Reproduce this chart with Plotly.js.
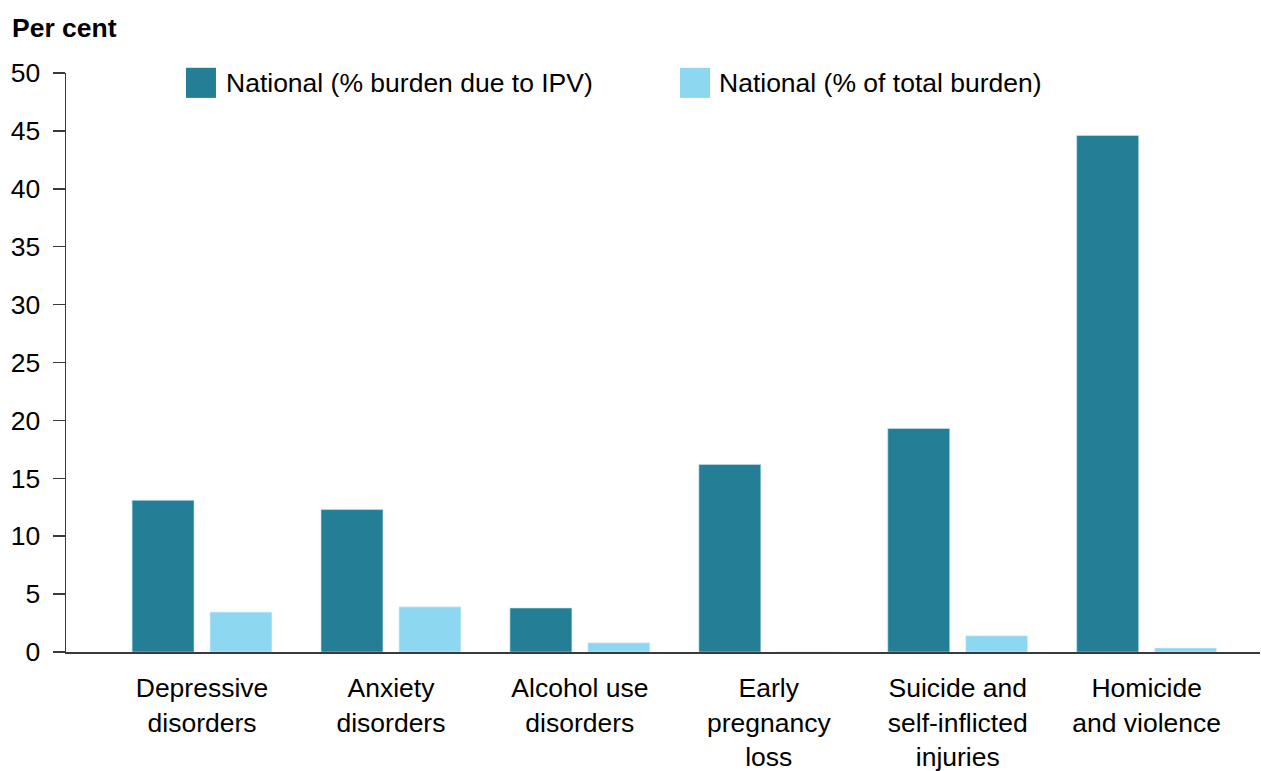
<!DOCTYPE html>
<html>
<head>
<meta charset="utf-8">
<script src="https://cdn.plot.ly/plotly-3.0.1.min.js"></script>
<style>html,body{margin:0;padding:0;background:#fff;}#chart{width:1261px;height:771px;}</style>
</head>
<body>
<div id="chart"></div>
<script>
const categories = [
  "Depressive<br>disorders",
  "Anxiety<br>disorders",
  "Alcohol use<br>disorders",
  "Early<br>pregnancy<br>loss",
  "Suicide and<br>self-inflicted<br>injuries",
  "Homicide<br>and violence"
];
const seriesNames = ["National (% burden due to IPV)", "National (% of total burden)"];
const burdenDueToIPV = [13.1, 12.3, 3.8, 16.2, 19.3, 44.6];
const totalBurden = [3.45, 3.9, 0.8, 0, 1.4, 0.35];
const yTicks = [0, 5, 10, 15, 20, 25, 30, 35, 40, 45, 50];

const darkColor = "#237E96";
const lightColor = "#8ED7F0";
const font = "Liberation Sans, Arial, sans-serif";
const fs = 26.5;

const xIdx = categories.map((c, i) => i);

const traces = [
  {type: "bar", name: seriesNames[0], x: xIdx, y: burdenDueToIPV,
   marker: {color: darkColor, line: {color: "#c8e6ee", width: 0.6}}},
  {type: "bar", name: seriesNames[1], x: xIdx, y: totalBurden,
   marker: {color: lightColor, line: {color: "#e0f4fb", width: 0.6}}}
];

const layout = {
  width: 1261, height: 771,
  margin: {l: 66, r: 1, t: 73, b: 119},
  paper_bgcolor: "#fff", plot_bgcolor: "#fff",
  font: {family: font, size: fs, color: "#000"},
  showlegend: false,
  barmode: "group",
  bargap: 0.175,
  bargroupgap: 0.205,
  xaxis: {
    range: [-0.72, 5.6],
    tickmode: "array", tickvals: xIdx, ticktext: categories,
    showline: true, linecolor: "#3a3a3a", linewidth: 1.5,
    ticks: "", showgrid: false, zeroline: false,
    tickfont: {family: font, size: fs, color: "#000"},
    ticklabelstandoff: 12
  },
  yaxis: {
    range: [0, 50],
    tickmode: "array", tickvals: yTicks,
    showline: true, linecolor: "#3a3a3a", linewidth: 1.5,
    ticks: "outside", ticklen: 12, tickcolor: "#3a3a3a", tickwidth: 1.5,
    showgrid: false, zeroline: false,
    tickfont: {family: font, size: fs, color: "#000"},
    ticklabelstandoff: 7
  },
  annotations: [
    {xref: "paper", yref: "paper", x: -0.047, y: 1.0, yshift: 45, xanchor: "left", yanchor: "middle",
     text: "<b>Per cent</b>", showarrow: false, font: {family: font, size: fs, color: "#000"}},
    {xref: "paper", yref: "paper", x: 0.1322, y: 0.983, xanchor: "left", yanchor: "middle",
     text: seriesNames[0], showarrow: false, font: {family: font, size: fs, color: "#000"}},
    {xref: "paper", yref: "paper", x: 0.5452, y: 0.983, xanchor: "left", yanchor: "middle",
     text: seriesNames[1], showarrow: false, font: {family: font, size: fs, color: "#000"}}
  ],
  shapes: [
    {type: "rect", xref: "paper", yref: "paper", x0: 0.1005, x1: 0.1256, y0: 0.957, y1: 1.009,
     fillcolor: darkColor, line: {width: 0}},
    {type: "rect", xref: "paper", yref: "paper", x0: 0.5142, x1: 0.5394, y0: 0.957, y1: 1.009,
     fillcolor: lightColor, line: {width: 0}}
  ]
};

Plotly.newPlot("chart", traces, layout, {displayModeBar: false, staticPlot: true});
</script>
</body>
</html>
